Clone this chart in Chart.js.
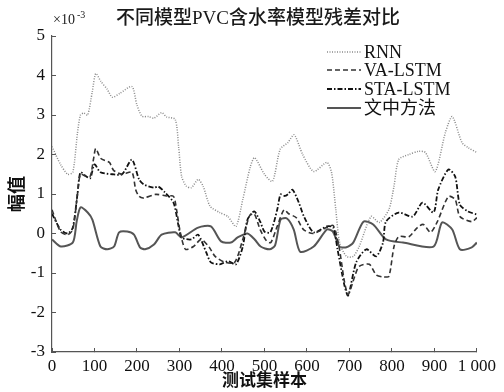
<!DOCTYPE html>
<html>
<head>
<meta charset="utf-8">
<script src="https://cdn.jsdelivr.net/npm/chart.js@4.4.1/dist/chart.umd.min.js"></script>
<style>
html, body { margin: 0; padding: 0; background: #fff; }
</style>
</head>
<body>
<canvas id="residualChart" width="504" height="392"></canvas>
<script>
// residuals, in units of 1e-3
const seriesNames = ["RNN", "VA-LSTM", "STA-LSTM", "文中方法"];

const rnnX = [0, 20, 37, 49, 60, 67, 75, 84, 95, 103, 115, 130, 142, 160, 188, 200, 212, 228, 240, 258, 270, 290, 298, 305, 316, 328, 344, 356, 372, 395, 414, 433, 449, 467, 477, 500, 519, 537, 555, 570, 590, 616, 647, 658, 668, 677, 693, 709, 723, 751, 770, 793, 805, 816, 840, 863, 879, 902, 926, 942, 965, 980, 1000];
const rnnY = [2.2, 1.75, 1.5, 1.55, 2.55, 3.0, 3.05, 3.0, 3.6, 4.05, 3.85, 3.65, 3.45, 3.55, 3.72, 3.25, 2.97, 2.96, 2.92, 3.06, 2.95, 2.89, 2.2, 1.45, 1.2, 1.16, 1.37, 1.19, 0.69, 0.53, 0.43, 0.18, 0.86, 1.7, 1.92, 1.5, 1.32, 2.13, 2.3, 2.5, 2.0, 1.57, 1.8, 1.54, 0.6, -0.23, -0.58, -0.58, -0.33, 0.43, 0.28, 0.61, 1.2, 1.87, 2.0, 2.08, 2.05, 1.57, 2.56, 2.96, 2.3, 2.17, 2.05];

const vaX = [0, 20, 37, 49, 60, 67, 80, 90, 98, 103, 115, 135, 145, 165, 188, 197, 205, 216, 244, 270, 286, 293, 302, 314, 333, 351, 370, 384, 407, 430, 449, 465, 476, 490, 505, 515, 530, 546, 557, 575, 592, 615, 646, 662, 675, 688, 697, 712, 723, 747, 763, 780, 793, 805, 816, 840, 860, 874, 891, 907, 933, 949, 960, 988, 1000];
const vaY = [0.6, 0.05, -0.03, 0.1, 1.0, 1.5, 1.45, 1.45, 1.9, 2.15, 1.9, 1.8, 1.6, 1.5, 1.55, 1.11, 0.94, 0.9, 0.99, 0.95, 0.94, 0.61, 0.03, -0.4, -0.33, -0.15, -0.35, -0.58, -0.73, -0.73, -0.15, 0.45, 0.5, 0.1, -0.19, -0.23, 0.18, 0.6, 0.5, 0.4, 0.1, 0.0, 0.15, 0.2, -0.3, -1.2, -1.55, -1.1, -0.83, -0.78, -1.05, -1.1, -1.08, -0.33, -0.08, -0.08, 0.15, 0.23, 0.03, 0.3, 0.94, 0.86, 0.43, 0.3, 0.4];

const staX = [0, 20, 37, 49, 60, 67, 80, 90, 100, 114, 142, 165, 188, 205, 216, 240, 250, 265, 286, 298, 305, 328, 344, 363, 374, 395, 414, 433, 449, 460, 476, 490, 500, 514, 530, 538, 548, 556, 566, 581, 593, 616, 647, 662, 672, 688, 697, 716, 740, 763, 779, 786, 816, 849, 872, 898, 909, 933, 949, 960, 979, 1000];
const staY = [0.5, 0.1, 0.0, 0.15, 1.0, 1.55, 1.45, 1.4, 1.75, 1.55, 1.5, 1.5, 1.87, 1.37, 1.24, 1.16, 1.19, 1.05, 0.78, 0.18, -0.1, -0.15, -0.03, -0.48, -0.73, -0.78, -0.7, -0.78, -0.33, 0.35, 0.56, 0.3, 0.05, 0.03, 0.6, 0.99, 0.95, 1.0, 1.11, 0.78, 0.43, 0.03, 0.18, 0.15, -0.4, -1.3, -1.57, -0.73, -0.4, -0.58, -0.23, 0.3, 0.53, 0.43, 0.78, 0.53, 1.11, 1.62, 1.44, 0.73, 0.56, 0.48];

const oursX = [0, 21, 49, 58, 67, 84, 95, 114, 130, 146, 158, 177, 193, 207, 219, 240, 258, 290, 305, 344, 374, 398, 421, 437, 460, 477, 491, 512, 525, 538, 553, 569, 584, 616, 647, 661, 677, 693, 709, 733, 756, 786, 826, 898, 918, 942, 960, 988, 1000];
const oursY = [-0.15, -0.33, -0.23, 0.3, 0.66, 0.53, 0.35, -0.33, -0.4, -0.33, 0.03, 0.05, -0.03, -0.35, -0.4, -0.28, -0.03, 0.03, -0.1, 0.15, 0.18, -0.2, -0.23, -0.1, 0.0, -0.15, -0.33, -0.4, -0.3, 0.35, 0.38, 0.1, -0.46, -0.33, 0.1, 0.05, -0.33, -0.35, -0.23, 0.3, 0.23, -0.15, -0.23, -0.33, 0.28, 0.1, -0.4, -0.35, -0.23];

const xTicks = [0, 100, 200, 300, 400, 500, 600, 700, 800, 900, 1000];

const serif = "'Liberation Serif', 'Noto Sans CJK SC', serif";

function toPoints(xs, ys) {
    return xs.map((x, i) => ({ x: x, y: ys[i] }));
}

// title, exponent and legend drawn on top
const decorations = {
    id: "decorations",
    beforeDraw(chart) {
        const c = chart.ctx;
        c.save();
        c.fillStyle = "#fff";
        c.fillRect(0, 0, chart.width, chart.height);
        c.restore();
    },
    afterDraw(chart) {
        const c = chart.ctx;
        c.save();
        c.fillStyle = "#1a1a1a";
        c.textBaseline = "alphabetic";

        c.font = "500 19px " + serif;
        c.textAlign = "center";
        c.fillText("不同模型PVC含水率模型残差对比", 258, 24);

        c.textAlign = "left";
        c.font = "14px " + serif;
        c.fillText("×10", 53, 24);
        c.font = "10px " + serif;
        c.fillText("-3", 77, 18);

        const rows = [52, 70, 89, 108];
        chart.data.datasets.forEach((ds, i) => {
            c.beginPath();
            c.strokeStyle = ds.borderColor;
            c.lineWidth = ds.borderWidth;
            c.setLineDash(ds.borderDash || []);
            c.moveTo(327, rows[i]);
            c.lineTo(361, rows[i]);
            c.stroke();
            c.setLineDash([]);
            c.font = "18px " + serif;
            c.textBaseline = "middle";
            c.fillStyle = "#111";
            c.fillText(ds.label, 364, rows[i] + 1);
        });
        c.restore();
    }
};

const ctx = document.getElementById("residualChart");

if (ctx) {

    new Chart(ctx, {

        type: "line",

        data: {

            datasets: [
                {
                    label: seriesNames[0],
                    data: toPoints(rnnX, rnnY),
                    borderColor: "#8a8a8a",
                    borderWidth: 1.5,
                    borderDash: [1, 1.5]
                },
                {
                    label: seriesNames[1],
                    data: toPoints(vaX, vaY),
                    borderColor: "#333",
                    borderWidth: 1.6,
                    borderDash: [5, 3]
                },
                {
                    label: seriesNames[2],
                    data: toPoints(staX, staY),
                    borderColor: "#111",
                    borderWidth: 1.8,
                    borderDash: [5, 2, 1.5, 2]
                },
                {
                    label: seriesNames[3],
                    data: toPoints(oursX, oursY),
                    borderColor: "#555",
                    borderWidth: 2
                }
            ]

        },

        options: {

            responsive: false,
            animation: false,
            devicePixelRatio: 1,

            layout: {
                padding: { top: 36, right: 22, left: 0, bottom: 0 }
            },

            elements: {
                point: { radius: 0 },
                line: { tension: 0.25, fill: false }
            },

            plugins: {
                legend: { display: false },
                title: { display: false },
                tooltip: { enabled: false }
            },

            scales: {

                x: {
                    type: "linear",
                    min: 0,
                    max: 1000,
                    afterBuildTicks(scale) {
                        scale.ticks = xTicks.map(v => ({ value: v }));
                    },
                    afterFit(scale) {
                        scale.height = 40;
                    },
                    ticks: {
                        color: "#111",
                        padding: 8,
                        maxRotation: 0,
                        autoSkip: false,
                        font: { family: serif, size: 17 },
                        callback: v => v === 1000 ? "1 000" : String(v)
                    },
                    grid: {
                        drawOnChartArea: false,
                        tickLength: -4,
                        color: "#555"
                    },
                    border: { display: true, color: "#555", width: 1.2 },
                    title: {
                        display: true,
                        text: "测试集样本",
                        color: "#111",
                        font: { family: serif, size: 17, weight: "bold" },
                        padding: { top: 2, bottom: 0 }
                    }
                },

                y: {
                    min: -3,
                    max: 5,
                    afterFit(scale) {
                        scale.width = 52;
                    },
                    ticks: {
                        stepSize: 1,
                        color: "#111",
                        padding: 11,
                        font: { family: serif, size: 17 }
                    },
                    grid: {
                        drawOnChartArea: false,
                        tickLength: -4,
                        color: "#555"
                    },
                    border: { display: true, color: "#555", width: 1.2 },
                    title: {
                        display: true,
                        text: "幅值",
                        color: "#111",
                        font: { family: serif, size: 18, weight: "bold" },
                        padding: { top: 8, bottom: 0 }
                    }
                }

            }

        },

        plugins: [decorations]

    });

}
</script>
</body>
</html>
